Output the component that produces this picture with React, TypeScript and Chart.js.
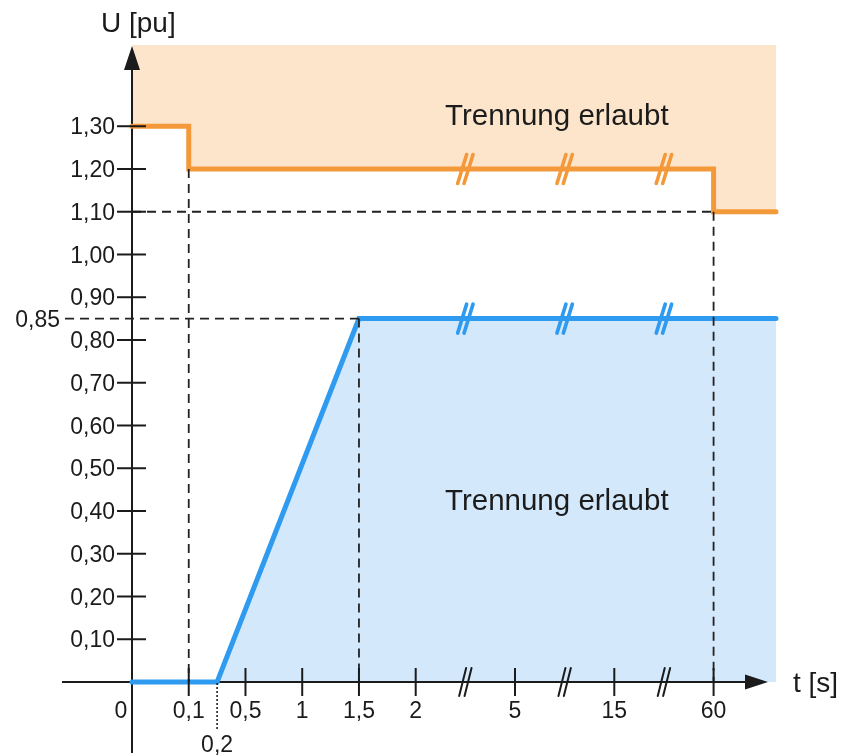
import React, { useEffect, useRef } from 'react';
import { Chart, registerables, LinearScale } from 'chart.js';

Chart.register(...registerables);

// ---- Broken time axis definition: real t [s] and its position along the axis (tick-step units)
const AXIS_T = [0, 0.1, 0.2, 0.5, 1, 1.5, 2, 5, 15, 60, 90];
const AXIS_STEP = [0, 1, 1.5, 2, 3, 4, 5, 6.75, 8.5, 10.25, 11.35];
const T_MAX = 90;

// ---- Tick labels
const X_TICK_VALUES = [0.1, 0.5, 1, 1.5, 2, 5, 15, 60];
const X_TICK_LABELS = ['0,1', '0,5', '1', '1,5', '2', '5', '15', '60'];
const X_ORIGIN_LABEL = '0';
const X_EXTRA_VALUE = 0.2;
const X_EXTRA_LABEL = '0,2';
const X_BREAKS_T = [3.5, 10, 37.5];

const Y_TICK_VALUES = [0.1, 0.2, 0.3, 0.4, 0.5, 0.6, 0.7, 0.8, 0.9, 1.0, 1.1, 1.2, 1.3];
const Y_TICK_LABELS = ['0,10', '0,20', '0,30', '0,40', '0,50', '0,60', '0,70', '0,80', '0,90', '1,00', '1,10', '1,20', '1,30'];
const Y_MARK_VALUE = 0.85;
const Y_MARK_LABEL = '0,85';
const Y_MAX = 1.49;

// ---- Series: upper (over-voltage) and lower (under-voltage) limit curves
const UPPER_T = [0, 0.1, 0.1, 60, 60, T_MAX];
const UPPER_U = [1.3, 1.3, 1.2, 1.2, 1.1, 1.1];
const LOWER_T = [0, 0.2, 1.5, T_MAX];
const LOWER_U = [0, 0, 0.85, 0.85];

const AREA_LABEL = 'Trennung erlaubt';
const X_TITLE = 't [s]';
const Y_TITLE = 'U [pu]';

const ORANGE = '#F4993A';
const ORANGE_FILL = '#FDE5CC';
const BLUE = '#2E9BF0';
const BLUE_FILL = '#D3E8FB';
const INK = '#1b1b1b';
const FONT = '"Liberation Sans", Arial, Helvetica, sans-serif';

function interp(v: number, xs: number[], ys: number[]): number {
  const n = xs.length - 1;
  if (v <= xs[0]) return ys[0] + ((v - xs[0]) * (ys[1] - ys[0])) / (xs[1] - xs[0]);
  for (let i = 1; i <= n; i++) {
    if (v <= xs[i]) {
      const f = (v - xs[i - 1]) / (xs[i] - xs[i - 1]);
      return ys[i - 1] + f * (ys[i] - ys[i - 1]);
    }
  }
  return ys[n] + ((v - xs[n]) * (ys[n] - ys[n - 1])) / (xs[n] - xs[n - 1]);
}

class BrokenTimeScale extends LinearScale {
  static id = 'brokenTime';
  static defaults = {};
  determineDataLimits() {
    (this as any).min = 0;
    (this as any).max = AXIS_STEP[AXIS_STEP.length - 1];
  }
  buildTicks() {
    return X_TICK_VALUES.map((value) => ({ value }));
  }
  getPixelForValue(value: any) {
    if (value === null || value === undefined) return NaN;
    return super.getPixelForValue(interp(value, AXIS_T, AXIS_STEP));
  }
  getValueForPixel(pixel: number) {
    return interp(super.getValueForPixel(pixel) as number, AXIS_STEP, AXIS_T);
  }
}
Chart.register(BrokenTimeScale as any);

function line(ctx: CanvasRenderingContext2D, x1: number, y1: number, x2: number, y2: number) {
  ctx.beginPath();
  ctx.moveTo(x1, y1);
  ctx.lineTo(x2, y2);
  ctx.stroke();
}

function doubleSlash(ctx: CanvasRenderingContext2D, cx: number, cy: number, hdx: number, hdy: number, gap: number) {
  for (const off of [-gap, gap]) {
    line(ctx, cx + off - hdx, cy + hdy, cx + off + hdx, cy - hdy);
  }
}

function text(ctx: CanvasRenderingContext2D, s: string, x: number, yCenter: number, size: number, align: CanvasTextAlign) {
  ctx.font = `${size}px ${FONT}`;
  ctx.textAlign = align;
  ctx.textBaseline = 'alphabetic';
  ctx.fillText(s, x, yCenter + 0.358 * size);
}

const diagramPlugin = {
  id: 'diagram',
  beforeDatasetsDraw(chart: any) {
    const { ctx, chartArea } = chart;
    const xs = chart.scales.x;
    const ys = chart.scales.y;
    const x0 = xs.getPixelForValue(0);
    const y0 = ys.getPixelForValue(0);
    const xEnd = xs.getPixelForValue(T_MAX);
    ctx.save();
    ctx.strokeStyle = INK;
    ctx.fillStyle = INK;
    ctx.lineWidth = 2;
    // x axis with arrow
    line(ctx, x0 - 70, y0, xEnd - 30, y0);
    ctx.beginPath();
    ctx.moveTo(xEnd - 8, y0);
    ctx.lineTo(xEnd - 31, y0 - 7.5);
    ctx.lineTo(xEnd - 31, y0 + 7.5);
    ctx.closePath();
    ctx.fill();
    // y axis with arrow
    line(ctx, x0, y0 + 71, x0, chartArea.top + 22);
    ctx.beginPath();
    ctx.moveTo(x0, chartArea.top + 1);
    ctx.lineTo(x0 - 8, chartArea.top + 25);
    ctx.lineTo(x0 + 8, chartArea.top + 25);
    ctx.closePath();
    ctx.fill();
    ctx.restore();
  },
  afterDatasetsDraw(chart: any) {
    const { ctx, chartArea } = chart;
    const xs = chart.scales.x;
    const ys = chart.scales.y;
    const X = (t: number) => xs.getPixelForValue(t);
    const Y = (u: number) => ys.getPixelForValue(u);
    const x0 = X(0);
    const y0 = Y(0);
    const xEnd = X(T_MAX);
    ctx.save();

    // dashed guide lines
    ctx.strokeStyle = '#222222';
    ctx.lineWidth = 1.8;
    ctx.setLineDash([9, 6]);
    line(ctx, x0, Y(UPPER_U[4]), X(UPPER_T[4]), Y(UPPER_U[4]));
    line(ctx, x0 - 67, Y(Y_MARK_VALUE), X(LOWER_T[2]), Y(Y_MARK_VALUE));
    line(ctx, X(UPPER_T[1]), Y(UPPER_U[2]), X(UPPER_T[1]), y0);
    line(ctx, X(LOWER_T[2]), Y(LOWER_U[2]), X(LOWER_T[2]), y0);
    line(ctx, X(UPPER_T[3]), Y(UPPER_U[4]), X(UPPER_T[3]), y0);
    // dotted marker at 0.2
    ctx.setLineDash([2, 2]);
    ctx.lineWidth = 1.6;
    line(ctx, X(X_EXTRA_VALUE), y0 + 1, X(X_EXTRA_VALUE), y0 + 48);
    ctx.setLineDash([]);

    // ticks
    ctx.strokeStyle = INK;
    ctx.lineWidth = 2;
    Y_TICK_VALUES.forEach((v) => line(ctx, x0 - 15, Y(v), x0 + 14, Y(v)));
    X_TICK_VALUES.forEach((v) => line(ctx, X(v), y0 - 14, X(v), y0 + 14));

    // axis break marks
    ctx.lineCap = 'round';
    ctx.lineWidth = 2;
    X_BREAKS_T.forEach((t) => doubleSlash(ctx, X(t), y0, 3.5, 14, 2.7));
    ctx.lineWidth = 3.6;
    ctx.strokeStyle = ORANGE;
    X_BREAKS_T.forEach((t) => doubleSlash(ctx, X(t), Y(UPPER_U[3]), 4.5, 14.5, 3.2));
    ctx.strokeStyle = BLUE;
    X_BREAKS_T.forEach((t) => doubleSlash(ctx, X(t), Y(LOWER_U[3]), 4.5, 14.5, 3.2));

    // tick labels
    ctx.fillStyle = INK;
    Y_TICK_VALUES.forEach((v, i) => text(ctx, Y_TICK_LABELS[i], x0 - 17, Y(v), 23, 'right'));
    text(ctx, Y_MARK_LABEL, x0 - 72, Y(Y_MARK_VALUE), 23, 'right');
    X_TICK_VALUES.forEach((v, i) => text(ctx, X_TICK_LABELS[i], X(v), y0 + 28, 23, 'center'));
    text(ctx, X_ORIGIN_LABEL, x0 - 11, y0 + 28, 23, 'center');
    text(ctx, X_EXTRA_LABEL, X(X_EXTRA_VALUE), y0 + 62, 23, 'center');

    // axis titles
    ctx.font = `28px ${FONT}`;
    ctx.textAlign = 'left';
    ctx.textBaseline = 'alphabetic';
    ctx.fillText(Y_TITLE, x0 - 31, chartArea.top - 13);
    ctx.fillText(X_TITLE, xEnd + 17, y0 + 10);

    // area labels
    ctx.font = `29.5px ${FONT}`;
    ctx.fillText(AREA_LABEL, 445, Y(1.3) - 1);
    ctx.fillText(AREA_LABEL, 445, Y(0.4) - 1);
    ctx.restore();
  },
};

export default function App() {
  const canvasRef = useRef<HTMLCanvasElement | null>(null);

  useEffect(() => {
    document.body.style.margin = '0';
    const canvas = canvasRef.current;
    if (!canvas) return;
    const chart = new Chart(canvas, {
      type: 'line',
      data: {
        datasets: [
          {
            label: 'upper',
            data: UPPER_T.map((t, i) => ({ x: t, y: UPPER_U[i] })),
            borderColor: ORANGE,
            backgroundColor: ORANGE_FILL,
            borderWidth: 5,
            borderJoinStyle: 'miter',
            borderCapStyle: 'round',
            pointRadius: 0,
            tension: 0,
            fill: 'end',
            clip: false,
          } as any,
          {
            label: 'lower',
            data: LOWER_T.map((t, i) => ({ x: t, y: LOWER_U[i] })),
            borderColor: BLUE,
            backgroundColor: BLUE_FILL,
            borderWidth: 5,
            borderJoinStyle: 'miter',
            borderCapStyle: 'round',
            pointRadius: 0,
            tension: 0,
            fill: 'origin',
            clip: false,
          } as any,
        ],
      },
      options: {
        animation: false,
        responsive: true,
        maintainAspectRatio: false,
        events: [],
        layout: { padding: { left: 132, top: 45, right: 66, bottom: 74 } },
        scales: {
          x: { type: 'brokenTime' as any, display: false },
          y: { type: 'linear', min: 0, max: Y_MAX, display: false },
        },
        plugins: {
          legend: { display: false },
          tooltip: { enabled: false },
          filler: { drawTime: 'beforeDraw' } as any,
        },
      },
      plugins: [diagramPlugin],
    });
    return () => chart.destroy();
  }, []);

  return (
    <div style={{ position: 'relative', width: 842, height: 756 }}>
      <canvas ref={canvasRef} />
    </div>
  );
}
